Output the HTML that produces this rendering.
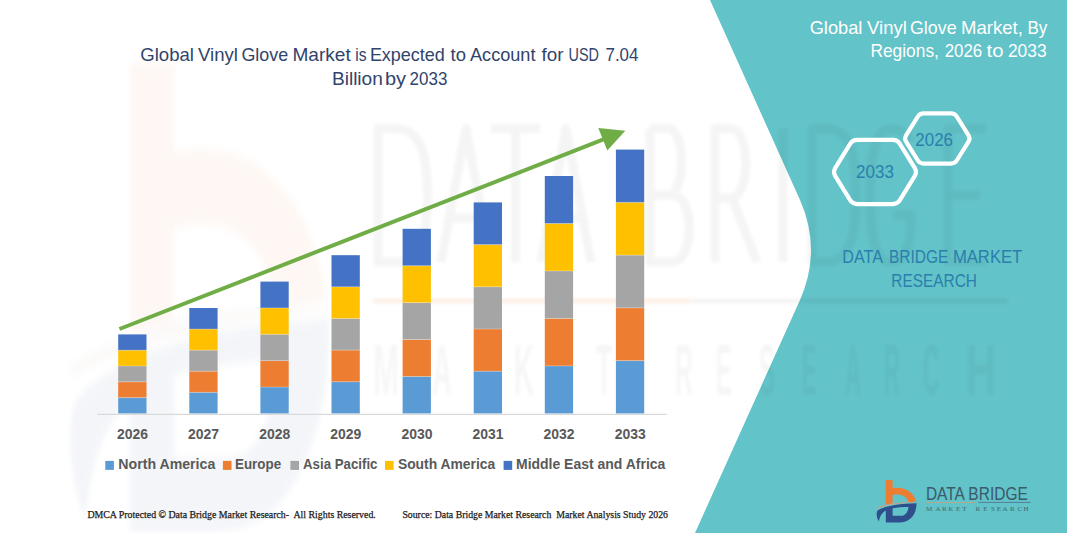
<!DOCTYPE html>
<html><head><meta charset="utf-8">
<style>
html,body{margin:0;padding:0;}
body{width:1067px;height:533px;overflow:hidden;position:relative;background:#fff;}
svg{position:absolute;left:0;top:0;}
</style></head><body>
<svg width="1067" height="533" viewBox="0 0 1067 533">
<defs><filter id="bl3" filterUnits="userSpaceOnUse" x="350" y="280" width="700" height="45"><feGaussianBlur stdDeviation="1.4"/></filter><filter id="bl2" x="-20%" y="-20%" width="140%" height="140%"><feGaussianBlur stdDeviation="0.4"/></filter><filter id="bl" x="-10%" y="-10%" width="120%" height="120%"><feGaussianBlur stdDeviation="1.6"/></filter><g id="lg">
<path d="M885.8,479.9 L892.6,479.9 L892.6,488 C902,486.5 913.5,490 916,501.5 L908.6,502.3 C906.5,495.5 900,493.5 892.6,495 L892.6,503.5 L885.8,504.5 Z" fill="#EE7D34"/>
<path d="M876.5,507.5 C890,502.5 905,501.5 919.5,502.3 C905,502.8 890,504.5 876.5,508.5 Z" fill="#B9A58F"/>
<path d="M916.5,503.2 C916.5,515 910,522.5 899,522.5 L885.8,522.5 L885.8,510.5 C881.5,513 879.5,517 879,521.5 C876.5,518 876,513 877.5,510.5 C885,505.5 902,503.5 916.5,503.2 Z M892.6,508.2 L892.6,515.8 L901,515.8 C905.5,515.8 908,512 908.5,507 C903,507 897,507.5 892.6,508.2 Z" fill="#2E4F8C" fill-rule="evenodd"/>
</g></defs>
<path d="M710,0 L1067,0 L1067,533 L695,533 L800,300 Q822,250 800,200 Z" fill="#62C3C8"/>
<g opacity="0.05" transform="translate(130,63) scale(6.5,11) translate(-885.8,-479.9)" filter="url(#bl2)"><use href="#lg"/></g>
<g id="wm" fill="none" stroke="#000" stroke-opacity="0.04" stroke-width="9" stroke-linejoin="round" filter="url(#bl)">
<path d="M378,128.5 L395,128.5 C423,128.5 427.5,160 427.5,195 C427.5,230 423,262 395,262 L378,262 Z"/>
<path d="M441,262 L466,128.5 L491,262 M449,218 L483,218"/>
<path d="M491,128.5 L540,128.5 M515.5,128.5 L515.5,262"/>
<path d="M541,262 L566,128.5 L591,262 M549,218 L583,218"/>
<path d="M650,128.5 L650,262 L672,262 C695,262 695,195 672,195 L650,195 M650,128.5 L668,128.5 C686,128.5 686,195 668,195"/>
<path d="M715,262 L715,128.5 L730,128.5 C751,128.5 751,198 730,198 L715,198 M732,198 L757,262"/>
<path d="M783,128.5 L783,262"/>
<path d="M812,128.5 L826,128.5 C852,128.5 856,160 856,195 C856,230 852,262 826,262 L812,262 Z"/>
<path d="M911,142 C905,131 897,128.5 891,128.5 C877,128.5 870,150 870,195 C870,240 877,262 891,262 C905,262 911,245 911,215 L893,215"/>
<path d="M986,128.5 L948,128.5 L948,262 L986,262 M948,195 L980,195"/>
</g>
<g fill="#000" fill-opacity="0.035" filter="url(#bl)" font-family="Liberation Sans" font-weight="bold" font-size="72">
<text transform="translate(373,394.5) scale(0.434,1)">M</text>
<text transform="translate(432,394.5) scale(0.385,1)">A</text>
<text transform="translate(473,394.5) scale(0.346,1)">R</text>
<text transform="translate(514,394.5) scale(0.385,1)">K</text>
<text transform="translate(557,394.5) scale(0.333,1)">E</text>
<text transform="translate(596,394.5) scale(0.364,1)">T</text>
<text transform="translate(675,394.5) scale(0.346,1)">R</text>
<text transform="translate(716,394.5) scale(0.333,1)">E</text>
<text transform="translate(759,394.5) scale(0.333,1)">S</text>
<text transform="translate(802,394.5) scale(0.292,1)">E</text>
<text transform="translate(845,394.5) scale(0.308,1)">A</text>
<text transform="translate(884,394.5) scale(0.308,1)">R</text>
<text transform="translate(923,394.5) scale(0.308,1)">C</text>
<text transform="translate(966,394.5) scale(0.577,1)">H</text>
</g>
<g filter="url(#bl3)"><line x1="373" y1="301" x2="690" y2="301" stroke="#F0A070" stroke-opacity="0.16" stroke-width="5"/>
<line x1="690" y1="301" x2="1008" y2="301" stroke="#000" stroke-opacity="0.045" stroke-width="5"/></g>
<line x1="97.5" y1="414.4" x2="666.7" y2="414.4" stroke="#D9D9D9" stroke-width="1.2"/>
<rect x="118.2" y="397.60" width="28.3" height="15.80" fill="#5B9BD5"/>
<rect x="118.2" y="381.80" width="28.3" height="15.80" fill="#ED7D31"/>
<rect x="118.2" y="366.00" width="28.3" height="15.80" fill="#A5A5A5"/>
<rect x="118.2" y="350.20" width="28.3" height="15.80" fill="#FFC000"/>
<rect x="118.2" y="334.40" width="28.3" height="15.80" fill="#4472C4"/>
<rect x="189.3" y="392.32" width="28.3" height="21.08" fill="#5B9BD5"/>
<rect x="189.3" y="371.24" width="28.3" height="21.08" fill="#ED7D31"/>
<rect x="189.3" y="350.16" width="28.3" height="21.08" fill="#A5A5A5"/>
<rect x="189.3" y="329.08" width="28.3" height="21.08" fill="#FFC000"/>
<rect x="189.3" y="308.00" width="28.3" height="21.08" fill="#4472C4"/>
<rect x="260.4" y="387.04" width="28.3" height="26.36" fill="#5B9BD5"/>
<rect x="260.4" y="360.68" width="28.3" height="26.36" fill="#ED7D31"/>
<rect x="260.4" y="334.32" width="28.3" height="26.36" fill="#A5A5A5"/>
<rect x="260.4" y="307.96" width="28.3" height="26.36" fill="#FFC000"/>
<rect x="260.4" y="281.60" width="28.3" height="26.36" fill="#4472C4"/>
<rect x="331.5" y="381.76" width="28.3" height="31.64" fill="#5B9BD5"/>
<rect x="331.5" y="350.12" width="28.3" height="31.64" fill="#ED7D31"/>
<rect x="331.5" y="318.48" width="28.3" height="31.64" fill="#A5A5A5"/>
<rect x="331.5" y="286.84" width="28.3" height="31.64" fill="#FFC000"/>
<rect x="331.5" y="255.20" width="28.3" height="31.64" fill="#4472C4"/>
<rect x="402.6" y="376.48" width="28.3" height="36.92" fill="#5B9BD5"/>
<rect x="402.6" y="339.56" width="28.3" height="36.92" fill="#ED7D31"/>
<rect x="402.6" y="302.64" width="28.3" height="36.92" fill="#A5A5A5"/>
<rect x="402.6" y="265.72" width="28.3" height="36.92" fill="#FFC000"/>
<rect x="402.6" y="228.80" width="28.3" height="36.92" fill="#4472C4"/>
<rect x="473.7" y="371.20" width="28.3" height="42.20" fill="#5B9BD5"/>
<rect x="473.7" y="329.00" width="28.3" height="42.20" fill="#ED7D31"/>
<rect x="473.7" y="286.80" width="28.3" height="42.20" fill="#A5A5A5"/>
<rect x="473.7" y="244.60" width="28.3" height="42.20" fill="#FFC000"/>
<rect x="473.7" y="202.40" width="28.3" height="42.20" fill="#4472C4"/>
<rect x="544.8" y="365.92" width="28.3" height="47.48" fill="#5B9BD5"/>
<rect x="544.8" y="318.44" width="28.3" height="47.48" fill="#ED7D31"/>
<rect x="544.8" y="270.96" width="28.3" height="47.48" fill="#A5A5A5"/>
<rect x="544.8" y="223.48" width="28.3" height="47.48" fill="#FFC000"/>
<rect x="544.8" y="176.00" width="28.3" height="47.48" fill="#4472C4"/>
<rect x="615.9" y="360.64" width="28.3" height="52.76" fill="#5B9BD5"/>
<rect x="615.9" y="307.88" width="28.3" height="52.76" fill="#ED7D31"/>
<rect x="615.9" y="255.12" width="28.3" height="52.76" fill="#A5A5A5"/>
<rect x="615.9" y="202.36" width="28.3" height="52.76" fill="#FFC000"/>
<rect x="615.9" y="149.60" width="28.3" height="52.76" fill="#4472C4"/>
<line x1="118.2" x2="146.5" y1="397.60" y2="397.60" stroke="#fff" stroke-opacity="0.35" stroke-width="0.8"/>
<line x1="118.2" x2="146.5" y1="381.80" y2="381.80" stroke="#fff" stroke-opacity="0.35" stroke-width="0.8"/>
<line x1="118.2" x2="146.5" y1="366.00" y2="366.00" stroke="#fff" stroke-opacity="0.35" stroke-width="0.8"/>
<line x1="118.2" x2="146.5" y1="350.20" y2="350.20" stroke="#fff" stroke-opacity="0.35" stroke-width="0.8"/>
<line x1="189.3" x2="217.6" y1="392.32" y2="392.32" stroke="#fff" stroke-opacity="0.35" stroke-width="0.8"/>
<line x1="189.3" x2="217.6" y1="371.24" y2="371.24" stroke="#fff" stroke-opacity="0.35" stroke-width="0.8"/>
<line x1="189.3" x2="217.6" y1="350.16" y2="350.16" stroke="#fff" stroke-opacity="0.35" stroke-width="0.8"/>
<line x1="189.3" x2="217.6" y1="329.08" y2="329.08" stroke="#fff" stroke-opacity="0.35" stroke-width="0.8"/>
<line x1="260.4" x2="288.7" y1="387.04" y2="387.04" stroke="#fff" stroke-opacity="0.35" stroke-width="0.8"/>
<line x1="260.4" x2="288.7" y1="360.68" y2="360.68" stroke="#fff" stroke-opacity="0.35" stroke-width="0.8"/>
<line x1="260.4" x2="288.7" y1="334.32" y2="334.32" stroke="#fff" stroke-opacity="0.35" stroke-width="0.8"/>
<line x1="260.4" x2="288.7" y1="307.96" y2="307.96" stroke="#fff" stroke-opacity="0.35" stroke-width="0.8"/>
<line x1="331.5" x2="359.8" y1="381.76" y2="381.76" stroke="#fff" stroke-opacity="0.35" stroke-width="0.8"/>
<line x1="331.5" x2="359.8" y1="350.12" y2="350.12" stroke="#fff" stroke-opacity="0.35" stroke-width="0.8"/>
<line x1="331.5" x2="359.8" y1="318.48" y2="318.48" stroke="#fff" stroke-opacity="0.35" stroke-width="0.8"/>
<line x1="331.5" x2="359.8" y1="286.84" y2="286.84" stroke="#fff" stroke-opacity="0.35" stroke-width="0.8"/>
<line x1="402.6" x2="430.9" y1="376.48" y2="376.48" stroke="#fff" stroke-opacity="0.35" stroke-width="0.8"/>
<line x1="402.6" x2="430.9" y1="339.56" y2="339.56" stroke="#fff" stroke-opacity="0.35" stroke-width="0.8"/>
<line x1="402.6" x2="430.9" y1="302.64" y2="302.64" stroke="#fff" stroke-opacity="0.35" stroke-width="0.8"/>
<line x1="402.6" x2="430.9" y1="265.72" y2="265.72" stroke="#fff" stroke-opacity="0.35" stroke-width="0.8"/>
<line x1="473.7" x2="502.0" y1="371.20" y2="371.20" stroke="#fff" stroke-opacity="0.35" stroke-width="0.8"/>
<line x1="473.7" x2="502.0" y1="329.00" y2="329.00" stroke="#fff" stroke-opacity="0.35" stroke-width="0.8"/>
<line x1="473.7" x2="502.0" y1="286.80" y2="286.80" stroke="#fff" stroke-opacity="0.35" stroke-width="0.8"/>
<line x1="473.7" x2="502.0" y1="244.60" y2="244.60" stroke="#fff" stroke-opacity="0.35" stroke-width="0.8"/>
<line x1="544.8" x2="573.1" y1="365.92" y2="365.92" stroke="#fff" stroke-opacity="0.35" stroke-width="0.8"/>
<line x1="544.8" x2="573.1" y1="318.44" y2="318.44" stroke="#fff" stroke-opacity="0.35" stroke-width="0.8"/>
<line x1="544.8" x2="573.1" y1="270.96" y2="270.96" stroke="#fff" stroke-opacity="0.35" stroke-width="0.8"/>
<line x1="544.8" x2="573.1" y1="223.48" y2="223.48" stroke="#fff" stroke-opacity="0.35" stroke-width="0.8"/>
<line x1="615.9" x2="644.2" y1="360.64" y2="360.64" stroke="#fff" stroke-opacity="0.35" stroke-width="0.8"/>
<line x1="615.9" x2="644.2" y1="307.88" y2="307.88" stroke="#fff" stroke-opacity="0.35" stroke-width="0.8"/>
<line x1="615.9" x2="644.2" y1="255.12" y2="255.12" stroke="#fff" stroke-opacity="0.35" stroke-width="0.8"/>
<line x1="615.9" x2="644.2" y1="202.36" y2="202.36" stroke="#fff" stroke-opacity="0.35" stroke-width="0.8"/>
<rect x="105.3" y="460.9" width="8.6" height="9" fill="#5B9BD5"/>
<rect x="222.9" y="460.9" width="8.6" height="9" fill="#ED7D31"/>
<rect x="290.4" y="460.9" width="8.6" height="9" fill="#A5A5A5"/>
<rect x="385.0" y="460.9" width="8.6" height="9" fill="#FFC000"/>
<rect x="503.6" y="460.9" width="8.6" height="9" fill="#4472C4"/>
<line x1="119.5" y1="329" x2="604" y2="139.2" stroke="#70AD47" stroke-width="4"/>
<polygon points="625.3,130.8 598.3,128 607.3,150.5" fill="#70AD47"/>
<path d="M917.68,116.74 Q919.80,113.35 923.80,113.35 L950.80,113.35 Q954.80,113.35 956.92,116.74 L968.38,135.11 Q970.50,138.50 968.38,141.89 L956.92,160.26 Q954.80,163.65 950.80,163.65 L923.80,163.65 Q919.80,163.65 917.68,160.26 L906.22,141.89 Q904.10,138.50 906.22,135.11 Z" fill="none" stroke="#fff" stroke-width="4.2"/>
<path d="M850.14,143.78 Q852.50,139.95 857.00,139.95 L893.00,139.95 Q897.50,139.95 899.86,143.78 L914.84,168.17 Q917.20,172.00 914.84,175.83 L899.86,200.22 Q897.50,204.05 893.00,204.05 L857.00,204.05 Q852.50,204.05 850.14,200.22 L835.16,175.83 Q832.80,172.00 835.16,168.17 Z" fill="none" stroke="#fff" stroke-width="4.2"/>

<use href="#lg"/>
<line x1="925.9" y1="502.6" x2="976" y2="502.6" stroke="#B7A98F" stroke-width="1"/>
<line x1="978.2" y1="502.4" x2="1030.5" y2="502.4" stroke="#5A7F99" stroke-width="1"/>
<text x="140.3" y="60.5" font-family="Liberation Sans" font-size="17.70" font-weight="normal" fill="#31446C" text-anchor="start" textLength="53.7" lengthAdjust="spacingAndGlyphs">Global</text>
<text x="198.0" y="60.5" font-family="Liberation Sans" font-size="17.70" font-weight="normal" fill="#31446C" text-anchor="start" textLength="39.9" lengthAdjust="spacingAndGlyphs">Vinyl</text>
<text x="241.4" y="60.5" font-family="Liberation Sans" font-size="17.70" font-weight="normal" fill="#31446C" text-anchor="start" textLength="46.7" lengthAdjust="spacingAndGlyphs">Glove</text>
<text x="292.4" y="60.5" font-family="Liberation Sans" font-size="17.70" font-weight="normal" fill="#31446C" text-anchor="start" textLength="58.3" lengthAdjust="spacingAndGlyphs">Market</text>
<text x="355.2" y="60.5" font-family="Liberation Sans" font-size="17.70" font-weight="normal" fill="#31446C" text-anchor="start" textLength="11.3" lengthAdjust="spacingAndGlyphs">is</text>
<text x="369.9" y="60.5" font-family="Liberation Sans" font-size="17.70" font-weight="normal" fill="#31446C" text-anchor="start" textLength="74.9" lengthAdjust="spacingAndGlyphs">Expected</text>
<text x="450.5" y="60.5" font-family="Liberation Sans" font-size="17.70" font-weight="normal" fill="#31446C" text-anchor="start" textLength="15.4" lengthAdjust="spacingAndGlyphs">to</text>
<text x="470.0" y="60.5" font-family="Liberation Sans" font-size="17.70" font-weight="normal" fill="#31446C" text-anchor="start" textLength="65.5" lengthAdjust="spacingAndGlyphs">Account</text>
<text x="541.6" y="60.5" font-family="Liberation Sans" font-size="17.70" font-weight="normal" fill="#31446C" text-anchor="start" textLength="22.0" lengthAdjust="spacingAndGlyphs">for</text>
<text x="568.5" y="60.5" font-family="Liberation Sans" font-size="17.70" font-weight="normal" fill="#31446C" text-anchor="start" textLength="30.5" lengthAdjust="spacingAndGlyphs">USD</text>
<text x="605.5" y="60.5" font-family="Liberation Sans" font-size="17.70" font-weight="normal" fill="#31446C" text-anchor="start" textLength="32.9" lengthAdjust="spacingAndGlyphs">7.04</text>
<text x="331.9" y="84.8" font-family="Liberation Sans" font-size="17.70" font-weight="normal" fill="#31446C" text-anchor="start" textLength="51.0" lengthAdjust="spacingAndGlyphs">Billion</text>
<text x="384.9" y="84.8" font-family="Liberation Sans" font-size="17.70" font-weight="normal" fill="#31446C" text-anchor="start" textLength="21.1" lengthAdjust="spacingAndGlyphs">by</text>
<text x="409.6" y="84.8" font-family="Liberation Sans" font-size="17.70" font-weight="normal" fill="#31446C" text-anchor="start" textLength="37.8" lengthAdjust="spacingAndGlyphs">2033</text>
<text x="117.1" y="439.0" font-family="Liberation Sans" font-size="14.00" font-weight="bold" fill="#595959" text-anchor="start" textLength="31.0" lengthAdjust="spacingAndGlyphs">2026</text>
<text x="188.1" y="439.0" font-family="Liberation Sans" font-size="14.00" font-weight="bold" fill="#595959" text-anchor="start" textLength="31.0" lengthAdjust="spacingAndGlyphs">2027</text>
<text x="259.2" y="439.0" font-family="Liberation Sans" font-size="14.00" font-weight="bold" fill="#595959" text-anchor="start" textLength="31.0" lengthAdjust="spacingAndGlyphs">2028</text>
<text x="330.3" y="439.0" font-family="Liberation Sans" font-size="14.00" font-weight="bold" fill="#595959" text-anchor="start" textLength="31.0" lengthAdjust="spacingAndGlyphs">2029</text>
<text x="401.4" y="439.0" font-family="Liberation Sans" font-size="14.00" font-weight="bold" fill="#595959" text-anchor="start" textLength="31.0" lengthAdjust="spacingAndGlyphs">2030</text>
<text x="472.6" y="439.0" font-family="Liberation Sans" font-size="14.00" font-weight="bold" fill="#595959" text-anchor="start" textLength="31.0" lengthAdjust="spacingAndGlyphs">2031</text>
<text x="543.6" y="439.0" font-family="Liberation Sans" font-size="14.00" font-weight="bold" fill="#595959" text-anchor="start" textLength="31.0" lengthAdjust="spacingAndGlyphs">2032</text>
<text x="614.7" y="439.0" font-family="Liberation Sans" font-size="14.00" font-weight="bold" fill="#595959" text-anchor="start" textLength="31.0" lengthAdjust="spacingAndGlyphs">2033</text>
<text x="118.3" y="468.6" font-family="Liberation Sans" font-size="14.00" font-weight="bold" fill="#595959" text-anchor="start" textLength="97.0" lengthAdjust="spacingAndGlyphs">North America</text>
<text x="235.0" y="468.6" font-family="Liberation Sans" font-size="14.00" font-weight="bold" fill="#595959" text-anchor="start" textLength="46.1" lengthAdjust="spacingAndGlyphs">Europe</text>
<text x="303.0" y="468.6" font-family="Liberation Sans" font-size="14.00" font-weight="bold" fill="#595959" text-anchor="start" textLength="74.5" lengthAdjust="spacingAndGlyphs">Asia Pacific</text>
<text x="397.9" y="468.6" font-family="Liberation Sans" font-size="14.00" font-weight="bold" fill="#595959" text-anchor="start" textLength="97.3" lengthAdjust="spacingAndGlyphs">South America</text>
<text x="516.0" y="468.6" font-family="Liberation Sans" font-size="14.00" font-weight="bold" fill="#595959" text-anchor="start" textLength="149.3" lengthAdjust="spacingAndGlyphs">Middle East and Africa</text>
<text x="87.4" y="517.8" font-family="Liberation Serif" font-size="10.70" font-weight="normal" fill="#1a1a1a" text-anchor="start" textLength="288.4" lengthAdjust="spacingAndGlyphs" stroke="#1a1a1a" stroke-width="0.25">DMCA Protected &#169; Data Bridge Market Research-&#160; All Rights Reserved.</text>
<text x="402.4" y="517.8" font-family="Liberation Serif" font-size="10.70" font-weight="normal" fill="#1a1a1a" text-anchor="start" textLength="265.6" lengthAdjust="spacingAndGlyphs" stroke="#1a1a1a" stroke-width="0.25">Source: Data Bridge Market Research&#160; Market Analysis Study 2026</text>
<text x="809.7" y="33.8" font-family="Liberation Sans" font-size="17.70" font-weight="normal" fill="#fff" text-anchor="start" textLength="52.7" lengthAdjust="spacingAndGlyphs">Global</text>
<text x="867.1" y="33.8" font-family="Liberation Sans" font-size="17.70" font-weight="normal" fill="#fff" text-anchor="start" textLength="39.8" lengthAdjust="spacingAndGlyphs">Vinyl</text>
<text x="910.0" y="33.8" font-family="Liberation Sans" font-size="17.70" font-weight="normal" fill="#fff" text-anchor="start" textLength="46.6" lengthAdjust="spacingAndGlyphs">Glove</text>
<text x="961.0" y="33.8" font-family="Liberation Sans" font-size="17.70" font-weight="normal" fill="#fff" text-anchor="start" textLength="61.8" lengthAdjust="spacingAndGlyphs">Market,</text>
<text x="1027.5" y="33.8" font-family="Liberation Sans" font-size="17.70" font-weight="normal" fill="#fff" text-anchor="start" textLength="19.9" lengthAdjust="spacingAndGlyphs">By</text>
<text x="870.4" y="57.3" font-family="Liberation Sans" font-size="17.70" font-weight="normal" fill="#fff" text-anchor="start" textLength="68.5" lengthAdjust="spacingAndGlyphs">Regions,</text>
<text x="944.7" y="57.3" font-family="Liberation Sans" font-size="17.70" font-weight="normal" fill="#fff" text-anchor="start" textLength="37.5" lengthAdjust="spacingAndGlyphs">2026</text>
<text x="986.6" y="57.3" font-family="Liberation Sans" font-size="17.70" font-weight="normal" fill="#fff" text-anchor="start" textLength="16.9" lengthAdjust="spacingAndGlyphs">to</text>
<text x="1007.9" y="57.3" font-family="Liberation Sans" font-size="17.70" font-weight="normal" fill="#fff" text-anchor="start" textLength="38.8" lengthAdjust="spacingAndGlyphs">2033</text>
<text x="915.3" y="145.8" font-family="Liberation Sans" font-size="18.00" font-weight="normal" fill="#2A7FAD" text-anchor="start" textLength="37.7" lengthAdjust="spacingAndGlyphs">2026</text>
<text x="856.0" y="178.0" font-family="Liberation Sans" font-size="18.00" font-weight="normal" fill="#2A7FAD" text-anchor="start" textLength="37.9" lengthAdjust="spacingAndGlyphs">2033</text>
<text x="842.3" y="262.7" font-family="Liberation Sans" font-size="18.60" font-weight="normal" fill="#2A7FAD" text-anchor="start" textLength="40.7" lengthAdjust="spacingAndGlyphs">DATA</text>
<text x="889.0" y="262.7" font-family="Liberation Sans" font-size="18.60" font-weight="normal" fill="#2A7FAD" text-anchor="start" textLength="59.3" lengthAdjust="spacingAndGlyphs">BRIDGE</text>
<text x="952.9" y="262.7" font-family="Liberation Sans" font-size="18.60" font-weight="normal" fill="#2A7FAD" text-anchor="start" textLength="69.4" lengthAdjust="spacingAndGlyphs">MARKET</text>
<text x="891.3" y="286.7" font-family="Liberation Sans" font-size="18.60" font-weight="normal" fill="#2A7FAD" text-anchor="start" textLength="85.6" lengthAdjust="spacingAndGlyphs">RESEARCH</text>
<text x="925.9" y="500.0" font-family="Liberation Sans" font-size="19.20" font-weight="normal" fill="#3B5A6A" text-anchor="start" textLength="101.9" lengthAdjust="spacingAndGlyphs">DATA BRIDGE</text>
<text y="511.3" font-family="Liberation Serif" font-size="7" fill="#45666F" x="926.1 935.4 942.1 948.3 956 962.2 975.6 983.3 991 996.7 1002.4 1010.1 1017.4 1023.5">MARKETRESEARCH</text>
</svg>
</body></html>
